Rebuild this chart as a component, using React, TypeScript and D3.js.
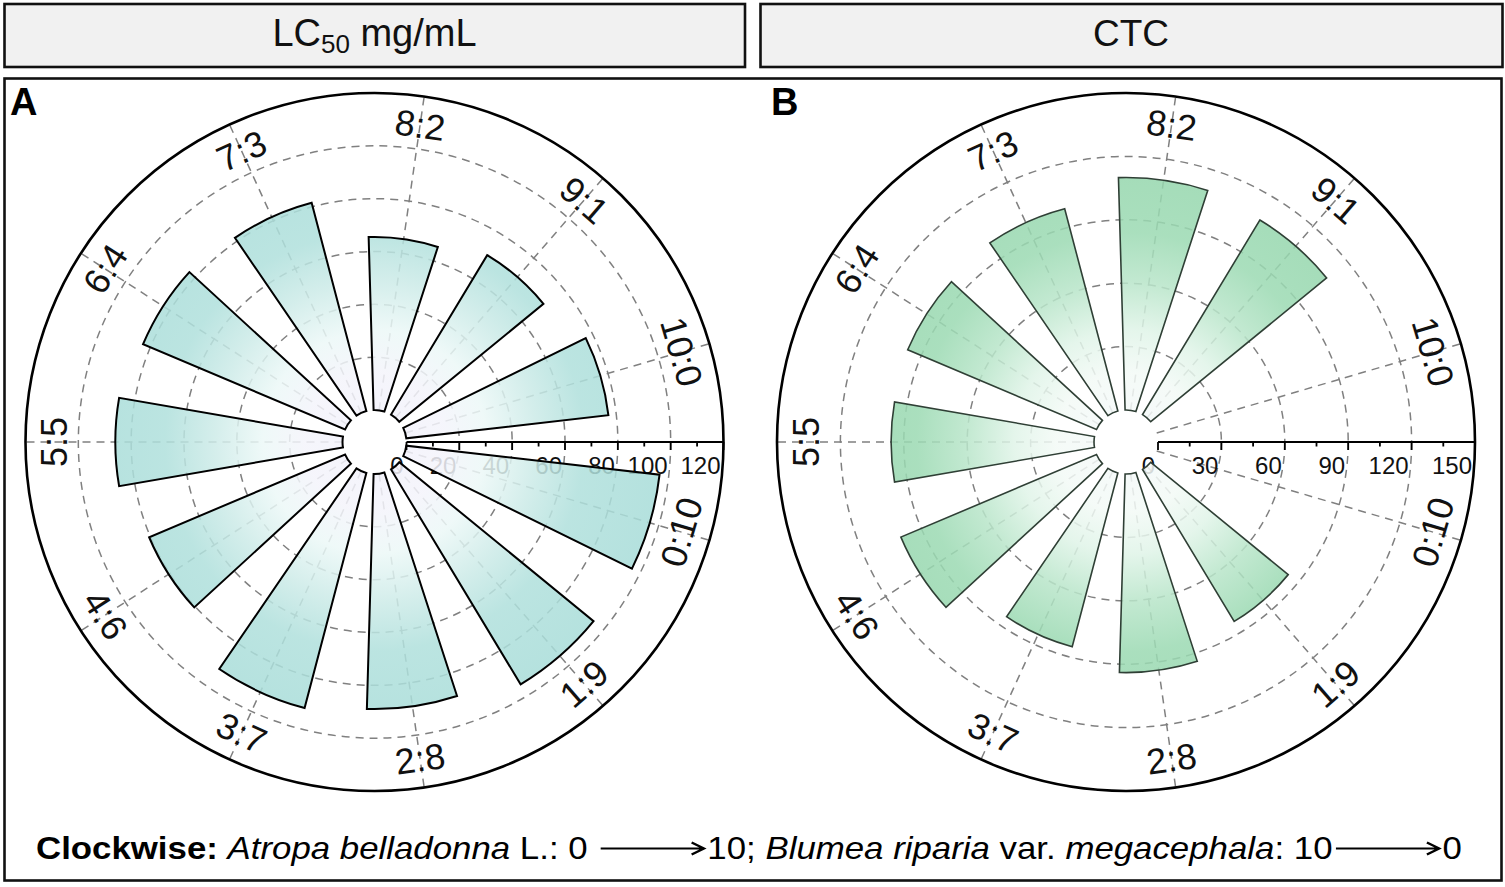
import React, { useEffect, useRef } from 'react';
import * as d3 from 'd3';

// mixing ratios, clockwise from 3 o'clock
const categories = ['0:10', '1:9', '2:8', '3:7', '4:6', '5:5', '6:4', '7:3', '8:2', '9:1', '10:0'];

// panel A: LC50 mg/mL
const lc50Values = [96.5, 95, 89, 92, 80.5, 86, 83, 81.5, 65.5, 70.5, 77];
const lc50Ticks = [0, 20, 40, 60, 80, 100, 120];

// panel B: CTC (no value for the pure extracts)
const ctcValues = [0, 84, 94, 85, 100.5, 96, 97, 99, 110, 107.5, 0];
const ctcTicks = [0, 30, 60, 90, 120, 150];

const FONT = "'Liberation Sans', Arial, Helvetica, sans-serif";

type Sel = d3.Selection<SVGGElement, unknown, null, undefined>;

interface PanelOpts {
  id: string;
  cx: number;
  cy: number;
  values: number[];
  ticks: number[];
  minorStep: number;
  stops: [number, string][];
  barStroke: string;
  barStrokeWidth: number;
}

function drawPanel(root: Sel, o: PanelOpts) {
  const max = o.ticks[o.ticks.length - 1];
  const g = root.append('g').attr('transform', `translate(${o.cx},${o.cy})`);

  const x = d3.scaleBand<string>()
    .domain(categories)
    .range([Math.PI / 2, Math.PI / 2 + 2 * Math.PI])
    .paddingInner(0.4)
    .paddingOuter(0.2);
  const y = d3.scaleLinear().domain([0, max]).range([32, 349]);
  const mid = (c: string) => (x(c) as number) + x.bandwidth() / 2;
  const pt = (a: number, r: number) => [r * Math.sin(a), -r * Math.cos(a)];

  // gradient (white centre -> colour outside)
  const grad = g.append('defs').append('radialGradient')
    .attr('id', o.id)
    .attr('gradientUnits', 'userSpaceOnUse')
    .attr('cx', 0).attr('cy', 0).attr('r', y(max));
  o.stops.forEach(([off, col]) => grad.append('stop').attr('offset', off).attr('stop-color', col));

  // dashed grid circles
  g.selectAll('circle.grid')
    .data(o.ticks.slice(1, -1))
    .join('circle')
    .attr('r', d => y(d))
    .attr('fill', 'none')
    .attr('stroke', '#808080')
    .attr('stroke-width', 1.5)
    .attr('stroke-dasharray', '8,6');

  // dashed spokes through each category
  g.selectAll('line.spoke')
    .data(categories)
    .join('line')
    .attr('x1', d => pt(mid(d), y(0))[0])
    .attr('y1', d => pt(mid(d), y(0))[1])
    .attr('x2', d => pt(mid(d), y(max))[0])
    .attr('y2', d => pt(mid(d), y(max))[1])
    .attr('stroke', '#808080')
    .attr('stroke-width', 1.5)
    .attr('stroke-dasharray', '8,6');

  // radial axis tick labels (under the bars)
  g.selectAll('text.tick')
    .data(o.ticks)
    .join('text')
    .attr('x', d => y(d) - 3)
    .attr('y', 32)
    .attr('text-anchor', 'end')
    .attr('font-family', FONT)
    .attr('font-size', 24)
    .attr('fill', '#111')
    .text(d => d);

  // bars
  const arc = d3.arc<number>()
    .innerRadius(y(0))
    .outerRadius(d => y(o.values[d]))
    .startAngle(d => x(categories[d]) as number)
    .endAngle(d => (x(categories[d]) as number) + x.bandwidth());

  g.selectAll('path.bar')
    .data(d3.range(categories.length).filter(i => o.values[i] > 0))
    .join('path')
    .attr('d', d => arc(d) as string)
    .attr('fill', `url(#${o.id})`)
    .attr('fill-opacity', 0.86)
    .attr('stroke', o.barStroke)
    .attr('stroke-width', o.barStrokeWidth)
    .attr('stroke-linejoin', 'miter');

  // radial axis line + ticks
  g.append('line')
    .attr('x1', y(0)).attr('x2', y(max))
    .attr('y1', 0).attr('y2', 0)
    .attr('stroke', '#000').attr('stroke-width', 2.2);
  const minor = d3.range(0, max + 1e-6, o.minorStep);
  g.selectAll('line.axtick')
    .data(minor)
    .join('line')
    .attr('x1', d => y(d)).attr('x2', d => y(d))
    .attr('y1', 0)
    .attr('y2', d => (o.ticks.includes(d) ? 8 : 4.5))
    .attr('stroke', '#000').attr('stroke-width', 1.8);

  // outer circle
  g.append('circle')
    .attr('r', y(max))
    .attr('fill', 'none')
    .attr('stroke', '#000')
    .attr('stroke-width', 2.6);

  // category labels
  g.selectAll('text.cat')
    .data(categories)
    .join('text')
    .attr('transform', d => {
      const a = mid(d);
      const [px, py] = pt(a, 320);
      let deg = (a * 180) / Math.PI;
      deg = ((deg % 360) + 360) % 360;
      if (deg > 90.5 && deg < 269.5) deg -= 180;
      return `translate(${px},${py}) rotate(${deg})`;
    })
    .attr('text-anchor', 'middle')
    .attr('dominant-baseline', 'central')
    .attr('font-family', FONT)
    .attr('font-size', 36)
    .attr('fill', '#111')
    .text(d => d);
}

export default function App() {
  const svgRef = useRef<SVGSVGElement | null>(null);

  useEffect(() => {
    if (!svgRef.current) return;
    const svg = d3.select(svgRef.current);
    svg.selectAll('*').remove();
    const root = svg.append('g') as unknown as Sel;

    // header boxes
    const headers = [
      { x: 4.5, w: 740.5, cx: 374.5 },
      { x: 760.5, w: 742, cx: 1131 },
    ];
    headers.forEach(h => {
      root.append('rect')
        .attr('x', h.x).attr('y', 4).attr('width', h.w).attr('height', 63)
        .attr('fill', '#f1f1f1').attr('stroke', '#111').attr('stroke-width', 2.6);
    });
    const t1 = root.append('text')
      .attr('x', headers[0].cx).attr('y', 46)
      .attr('text-anchor', 'middle')
      .attr('font-family', FONT).attr('font-size', 38).attr('fill', '#111');
    t1.append('tspan').text('LC');
    t1.append('tspan').attr('font-size', 26).attr('dy', 7).text('50');
    t1.append('tspan').attr('dy', -7).text(' mg/mL');
    root.append('text')
      .attr('x', headers[1].cx).attr('y', 46)
      .attr('text-anchor', 'middle')
      .attr('font-family', FONT).attr('font-size', 37).attr('fill', '#111')
      .text('CTC');

    // main frame
    root.append('rect')
      .attr('x', 4.5).attr('y', 78.5).attr('width', 1497).attr('height', 802)
      .attr('fill', '#fff').attr('stroke', '#111').attr('stroke-width', 2.6);

    drawPanel(root, {
      id: 'gradA', cx: 374.5, cy: 442, values: lc50Values, ticks: lc50Ticks, minorStep: 10,
      stops: [[0, '#f2f1fb'], [0.2, '#f4f4fb'], [0.32, '#ecf8f7'], [0.46, '#cdebe8'], [0.6, '#b0e0dc'], [1, '#a2dad6']],
      barStroke: '#000', barStrokeWidth: 2,
    });
    drawPanel(root, {
      id: 'gradB', cx: 1126, cy: 442, values: ctcValues, ticks: ctcTicks, minorStep: 15,
      stops: [[0, '#f5f9fb'], [0.2, '#f3faf6'], [0.32, '#e0f4e8'], [0.46, '#b8e5c9'], [0.6, '#9cdab3'], [1, '#8dd2a6']],
      barStroke: '#2f3f35', barStrokeWidth: 1.6,
    });

    // panel letters
    [['A', 10], ['B', 771]].forEach(([l, px]) => {
      root.append('text')
        .attr('x', px as number).attr('y', 115)
        .attr('font-family', FONT).attr('font-size', 38).attr('font-weight', 'bold')
        .attr('fill', '#000').text(l as string);
    });

    // footer
    const parts: { t?: string; b?: boolean; i?: boolean; arrow?: boolean }[] = [
      { t: 'Clockwise: ', b: true },
      { t: 'Atropa belladonna', i: true },
      { t: ' L.: 0 ' },
      { arrow: true },
      { t: '10; ' },
      { t: 'Blumea riparia', i: true },
      { t: ' var. ' },
      { t: 'megacephala', i: true },
      { t: ': 10' },
      { arrow: true },
      { t: '0' },
    ];
    const foot = root.append('g');
    let cursor = 0;
    parts.forEach(p => {
      if (p.arrow) {
        const x0 = cursor + 3;
        const x1 = x0 + 92;
        const ay = -10.5;
        foot.append('path')
          .attr('d', `M${x0},${ay}H${x1}M${x1 - 11},${ay - 6}L${x1},${ay}L${x1 - 11},${ay + 6}`)
          .attr('fill', 'none').attr('stroke', '#000').attr('stroke-width', 2.2);
        cursor = x1 + 3;
        return;
      }
      const txt = foot.append('text')
        .attr('x', cursor).attr('y', 0)
        .attr('font-family', FONT).attr('font-size', 31)
        .attr('font-weight', p.b ? 'bold' : 'normal')
        .attr('font-style', p.i ? 'italic' : 'normal')
        .attr('fill', '#000')
        .attr('xml:space', 'preserve')
        .style('white-space', 'pre')
        .text(p.t as string);
      cursor += (txt.node() as SVGTextElement).getComputedTextLength();
    });
    const sx = 1426 / cursor;
    foot.attr('transform', `translate(36,859) scale(${sx},1)`);
  }, []);

  return (
    <svg
      ref={svgRef}
      width={1505}
      height={887}
      style={{ position: 'absolute', left: 0, top: 0, background: '#fff' }}
    />
  );
}
